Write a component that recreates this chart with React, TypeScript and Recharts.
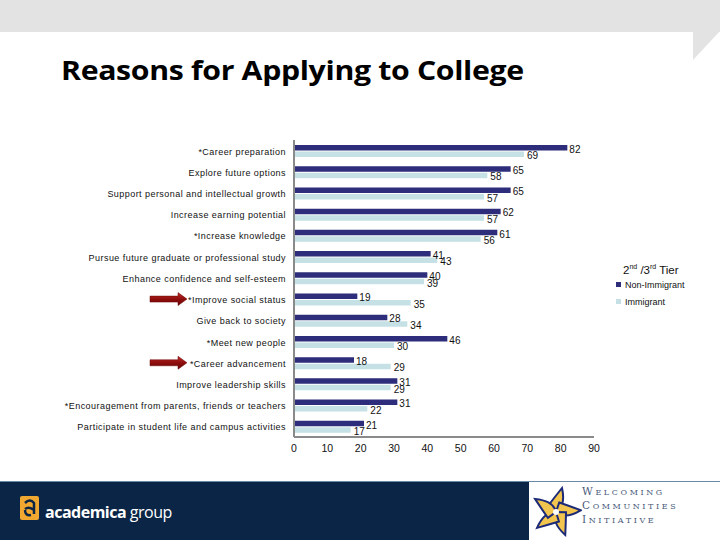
import React from 'react';
import { BarChart, Bar, XAxis, YAxis } from 'recharts';

const categories = [
  '*Career preparation',
  'Explore future options',
  'Support personal and intellectual growth',
  'Increase earning potential',
  '*Increase knowledge',
  'Pursue future graduate or professional study',
  'Enhance confidence and self-esteem',
  '*Improve social status',
  'Give back to society',
  '*Meet new people',
  '*Career advancement',
  'Improve leadership skills',
  '*Encouragement from parents, friends or teachers',
  'Participate in student life and campus activities',
];
const nonImmigrant = [82, 65, 65, 62, 61, 41, 40, 19, 28, 46, 18, 31, 31, 21];
const immigrant = [69, 58, 57, 57, 56, 43, 39, 35, 34, 30, 29, 29, 22, 17];
const xTicks = [0, 10, 20, 30, 40, 50, 60, 70, 80, 90];
const highlighted = ['*Improve social status', '*Career advancement'];
const seriesNames = ['Non-Immigrant', 'Immigrant'];

const DARK = '#2d2d7b';
const LIGHT = '#c5e1e5';
const seriesColors = [DARK, LIGHT];

const data = categories.map((c, i) => ({
  category: c,
  nonImmigrant: nonImmigrant[i],
  immigrant: immigrant[i],
}));

const labelFont = '"Liberation Sans", Arial, sans-serif';

const CategoryTick = (props: any) => {
  const { x, y, payload } = props;
  const isHi = highlighted.includes(payload.value);
  return (
    <g>
      <text
        x={x}
        y={y + 1}
        textAnchor="end"
        dominantBaseline="central"
        fontFamily={labelFont}
        fontSize={9}
        letterSpacing={0.45}
        fill="#111"
      >
        {payload.value}
      </text>
      {isHi && (
        <g>
          <defs>
            <linearGradient id="arrowGrad" x1="0" y1="0" x2="0" y2="1">
              <stop offset="0%" stopColor="#c0302a" />
              <stop offset="50%" stopColor="#8e0d0d" />
              <stop offset="100%" stopColor="#6a0505" />
            </linearGradient>
          </defs>
          <polygon
            points={`${x - 136},${y - 3} ${x - 108},${y - 3} ${x - 108},${y - 6.5} ${x - 99},${y} ${x - 108},${y + 6.5} ${x - 108},${y + 3} ${x - 136},${y + 3}`}
            fill="url(#arrowGrad)"
            stroke="#6a0505"
            strokeWidth={0.5}
          />
        </g>
      )}
    </g>
  );
};

const makeLabel = (dx: number, dy: number) => (props: any) => {
  const { x, y, width, height, value } = props;
  return (
    <text
      x={x + width + dx}
      y={y + height / 2 + dy}
      dominantBaseline="central"
      fontFamily={labelFont}
      fontSize={10}
      fill="#111"
    >
      {value}
    </text>
  );
};

export default function App() {
  return (
    <div style={{ position: 'absolute', left: 0, top: 0, width: 720, height: 540, background: '#fff', overflow: 'hidden' }}>
      {/* top banner */}
      <svg width={720} height={70} style={{ position: 'absolute', left: 0, top: 0 }}>
        <rect x={0} y={0} width={720} height={32} fill="#e3e3e3" />
        <polygon points="693,31 720,31 693,60" fill="#e3e3e3" />
      </svg>
      <div
        style={{
          position: 'absolute',
          left: 61,
          top: 51,
          fontFamily: '"Open Sans", Lato, sans-serif',
          fontWeight: 700,
          fontSize: 27,
          letterSpacing: -0.3,
          color: '#000',
          whiteSpace: 'nowrap',
          transform: 'scaleX(1.12)',
          transformOrigin: '0 0',
        }}
      >
        Reasons for Applying to College
      </div>

      <div style={{ position: 'absolute', left: 0, top: 0 }}>
        <BarChart
          width={720}
          height={540}
          data={data}
          layout="vertical"
          margin={{ top: 140, right: 126, bottom: 83, left: 0 }}
          barGap={1}
        >
          <XAxis
            type="number"
            domain={[0, 90]}
            ticks={xTicks}
            interval={0}
            tickLine={false}
            axisLine={{ stroke: '#8a8a8a', strokeWidth: 2 }}
            height={20}
            tick={{ fontFamily: labelFont, fontSize: 10.5, fill: '#111' }}
          />
          <YAxis
            type="category"
            dataKey="category"
            width={294}
            interval={0}
            tickLine={false}
            axisLine={{ stroke: '#8a8a8a', strokeWidth: 2 }}
            tick={<CategoryTick />}
          />
          <Bar
            dataKey="nonImmigrant"
            name={seriesNames[0]}
            fill={DARK}
            barSize={5.5}
            isAnimationActive={false}
            label={makeLabel(2, 1.5)}
          />
          <Bar
            dataKey="immigrant"
            name={seriesNames[1]}
            fill={LIGHT}
            barSize={5.5}
            isAnimationActive={false}
            label={makeLabel(3, 1.5)}
          />
        </BarChart>
      </div>

      {/* legend */}
      <div style={{ position: 'absolute', left: 616, top: 258, fontFamily: labelFont, color: '#111' }}>
        <div style={{ fontSize: 11.5, marginLeft: 7, height: 18, lineHeight: '18px', whiteSpace: 'nowrap' }}>
          2<sup style={{ fontSize: 7 }}>nd</sup> /3<sup style={{ fontSize: 7 }}>rd</sup> Tier
        </div>
        {seriesNames.map((n, i) => (
          <div key={n} style={{ display: 'flex', alignItems: 'center', height: 17, fontSize: 9, whiteSpace: 'nowrap' }}>
            <span style={{ width: 5, height: 5, background: seriesColors[i], display: 'inline-block', marginRight: 4 }} />
            <span>{n}</span>
          </div>
        ))}
      </div>

      {/* footer */}
      <div style={{ position: 'absolute', left: 0, top: 481, width: 720, height: 59, background: '#0b2546', borderTop: '1px solid #6a8aa8' }} />
      <svg width={30} height={30} style={{ position: 'absolute', left: 20, top: 496 }}>
        <rect x={0} y={0} width={19} height={24} rx={2} fill="#f0a830" />
        <path d="M5,7 Q10,2 14,7 L14,18 M5,13 Q9,10 14,14 M5,14 Q5,20 11,19" stroke="#0b2546" strokeWidth={2.5} fill="none" />
      </svg>
      <div
        style={{
          position: 'absolute',
          left: 45,
          top: 501,
          fontFamily: '"Open Sans", sans-serif',
          fontSize: 16,
          color: '#fff',
          letterSpacing: -0.5,
          whiteSpace: 'nowrap',
        }}
      >
        <span style={{ fontWeight: 700 }}>academica</span> <span>group</span>
      </div>
      <div style={{ position: 'absolute', left: 529, top: 482, width: 191, height: 58, background: '#fff' }} />
      <svg width={52} height={58} style={{ position: 'absolute', left: 530, top: 482 }}>
        <g transform="translate(26,30)">
          {[0, 72, 144, 216, 288].map((a) => (
            <g key={a} transform={`rotate(${a})`}>
              <path d="M0,0 Q10,-6 6,-24 Q-2,-14 -8,-6 Z" fill="#f2c64e" stroke="#1c2a78" strokeWidth={2} />
            </g>
          ))}
          <circle r={3} fill="#fff" />
        </g>
      </svg>
      <div
        style={{
          position: 'absolute',
          left: 582,
          top: 485,
          fontFamily: '"DejaVu Serif", "Liberation Serif", serif',
          color: '#4a5a7a',
          fontSize: 10.5,
          letterSpacing: 2.6,
          lineHeight: '13px',
          whiteSpace: 'nowrap',
        }}
      >
        <div>W<span style={{ fontSize: 8 }}>ELCOMING</span></div>
        <div>C<span style={{ fontSize: 8 }}>OMMUNITIES</span></div>
        <div>I<span style={{ fontSize: 8 }}>NITIATIVE</span></div>
      </div>
    </div>
  );
}
